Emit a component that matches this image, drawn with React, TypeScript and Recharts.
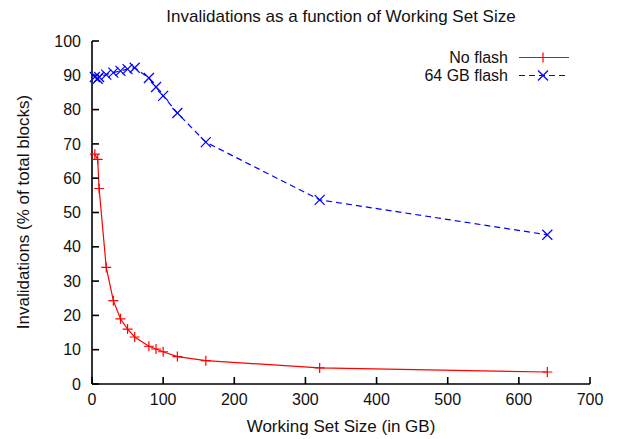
import { LineChart, Line, XAxis, YAxis, Legend } from 'recharts';

// working set sizes (GB)
const sizes = [4, 8, 10, 20, 30, 40, 50, 60, 80, 90, 100, 120, 160, 320, 640];
const noFlash = [67, 65.5, 57, 34, 24.3, 19, 16, 13.7, 11, 10.2, 9.4, 8, 6.8, 4.7, 3.5];
const flash64 = [89.5, 89, 89.5, 90.2, 90.8, 91.3, 91.8, 92.2, 89.2, 86.6, 84, 79, 70.5, 53.7, 43.5];

const xTicks = [0, 100, 200, 300, 400, 500, 600, 700];
const yTicks = [0, 10, 20, 30, 40, 50, 60, 70, 80, 90, 100];

const data = sizes.map((size, i) => ({ size, noFlash: noFlash[i], flash: flash64[i] }));

const RED = '#ff0000';
const BLUE = '#0000ff';
const FONT = '"Liberation Sans", Arial, sans-serif';

const Plus = ({ cx, cy, color }: { cx: number; cy: number; color: string }) => (
  <path d={`M${cx - 5},${cy}h10M${cx},${cy - 5}v10`} stroke={color} strokeWidth={1.2} fill="none" />
);

const Cross = ({ cx, cy, color }: { cx: number; cy: number; color: string }) => (
  <path d={`M${cx - 5},${cy - 5}l10,10M${cx - 5},${cy + 5}l10,-10`} stroke={color} strokeWidth={1.2} fill="none" />
);

const tickStyle = { fontSize: 16, fill: '#111', fontFamily: FONT };

function KeyBox() {
  const rows = [
    { name: 'No flash', color: RED, dash: undefined, Mark: Plus },
    { name: '64 GB flash', color: BLUE, dash: '6 4', Mark: Cross },
  ];
  return (
    <svg width={180} height={42}>
      {rows.map((r, i) => {
        const y = 12.5 + i * 18;
        return (
          <g key={r.name}>
            <text x={108} y={y} dy="0.35em" textAnchor="end" fontSize={16} fontFamily={FONT} fill="#111">
              {r.name}
            </text>
            <line x1={119} x2={169} y1={y} y2={y} stroke={r.color} strokeWidth={1.2} strokeDasharray={r.dash} />
            <r.Mark cx={143} cy={y} color={r.color} />
          </g>
        );
      })}
    </svg>
  );
}

export default function App() {
  return (
    <div style={{ position: 'absolute', left: 0, top: 0, background: '#fff' }}>
      <LineChart width={619} height={439} data={data} margin={{ top: 41, right: 29, bottom: 0, left: 0 }}>
        <XAxis
          dataKey="size" type="number" domain={[0, 700]} ticks={xTicks} interval={0}
          height={55} tickSize={-7} tickMargin={17} tick={tickStyle}
          axisLine={{ stroke: '#000', strokeWidth: 1.6 }} tickLine={{ stroke: '#000', strokeWidth: 1.6 }}
        />
        <XAxis
          xAxisId="top" orientation="top" type="number" domain={[0, 700]} ticks={xTicks} interval={0}
          allowDataOverflow height={0} tickSize={-7} tick={false}
          axisLine={{ stroke: '#000', strokeWidth: 1.6 }} tickLine={{ stroke: '#000', strokeWidth: 1.6 }}
        />
        <YAxis
          type="number" domain={[0, 100]} ticks={yTicks} interval={0}
          width={92} tickSize={-7} tickMargin={18} tick={tickStyle}
          axisLine={{ stroke: '#000', strokeWidth: 1.6 }} tickLine={{ stroke: '#000', strokeWidth: 1.6 }}
        />
        <YAxis
          yAxisId="right" orientation="right" type="number" domain={[0, 100]} ticks={yTicks} interval={0}
          allowDataOverflow width={0} tickSize={-7} tick={false}
          axisLine={{ stroke: '#000', strokeWidth: 1.6 }} tickLine={{ stroke: '#000', strokeWidth: 1.6 }}
        />
        <Legend
          layout="horizontal" verticalAlign="middle" align="center"
          wrapperStyle={{ left: 400, top: 45, width: 180, height: 42 }}
          content={() => <KeyBox />}
        />
        <Line
          dataKey="noFlash" name="No flash" stroke={RED} strokeWidth={1.2} isAnimationActive={false}
          dot={(p: any) => <Plus key={p.index} cx={p.cx} cy={p.cy} color={RED} />}
        />
        <Line
          dataKey="flash" name="64 GB flash" stroke={BLUE} strokeWidth={1.2} strokeDasharray="6 4"
          isAnimationActive={false}
          dot={(p: any) => <Cross key={p.index} cx={p.cx} cy={p.cy} color={BLUE} />}
        />
        <text x={341} y={16} dy="0.35em" textAnchor="middle" fontSize={17} fontFamily={FONT} fill="#111">
          Invalidations as a function of Working Set Size
        </text>
        <text x={341} y={426} dy="0.35em" textAnchor="middle" fontSize={17} fontFamily={FONT} fill="#111">
          Working Set Size (in GB)
        </text>
        <text
          x={23} y={212} dy="0.35em" textAnchor="middle" fontSize={17} fontFamily={FONT} fill="#111"
          transform="rotate(-90 23 212)"
        >
          Invalidations (% of total blocks)
        </text>
      </LineChart>
    </div>
  );
}
